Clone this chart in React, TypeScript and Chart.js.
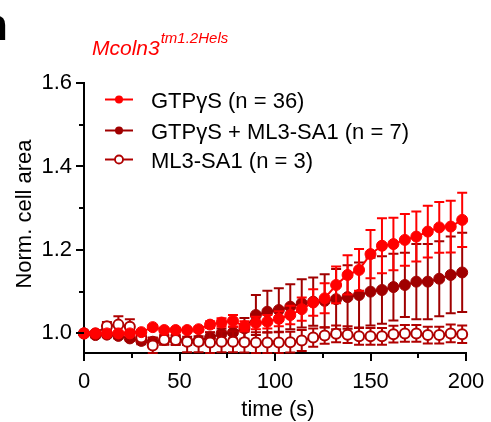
import React, { useEffect, useRef } from "react";
import { Chart, registerables } from "chart.js";

Chart.register(...registerables);

// ---------------- data ----------------
const TIMES = [0, 6, 12, 18, 24, 30, 36, 42, 48, 54, 60, 66, 72, 78, 84, 90, 96, 102, 108, 114, 120, 126, 132, 138, 144, 150, 156, 162, 168, 174, 180, 186, 192, 198];

const GTP_MEAN = [1.0, 1.0, 1.0, 1.0, 1.0, 1.003, 1.015, 1.008, 1.008, 1.008, 1.01, 1.021, 1.026, 1.03, 1.017, 1.025, 1.028, 1.035, 1.044, 1.058, 1.074, 1.084, 1.116, 1.14, 1.152, 1.19, 1.21, 1.214, 1.224, 1.232, 1.244, 1.254, 1.256, 1.272];
const GTP_SEM = [0.0, 0.004, 0.004, 0.004, 0.004, 0.004, 0.005, 0.005, 0.005, 0.005, 0.006, 0.008, 0.01, 0.014, 0.012, 0.015, 0.016, 0.018, 0.022, 0.028, 0.032, 0.036, 0.044, 0.047, 0.05, 0.058, 0.066, 0.063, 0.062, 0.06, 0.062, 0.061, 0.062, 0.065];

const COMBO_MEAN = [1.0, 0.996, 0.997, 0.994, 0.988, 0.982, 0.98, 0.984, 0.984, 0.982, 0.983, 0.99, 0.999, 1.002, 1.012, 1.044, 1.052, 1.056, 1.064, 1.072, 1.076, 1.078, 1.082, 1.087, 1.092, 1.1, 1.104, 1.111, 1.116, 1.124, 1.124, 1.131, 1.14, 1.146];
const COMBO_SEM = [0.0, 0.006, 0.006, 0.006, 0.006, 0.008, 0.01, 0.01, 0.01, 0.01, 0.01, 0.012, 0.012, 0.014, 0.025, 0.048, 0.05, 0.052, 0.054, 0.058, 0.058, 0.064, 0.072, 0.076, 0.078, 0.081, 0.081, 0.08, 0.077, 0.09, 0.09, 0.09, 0.092, 0.095];

const SA1_MEAN = [1.0, 1.0, 1.017, 1.021, 1.016, 0.99, 0.971, 0.985, 0.984, 0.98, 0.98, 0.978, 0.98, 0.98, 0.979, 0.978, 0.978, 0.978, 0.979, 0.983, 0.99, 0.995, 0.999, 0.997, 0.993, 0.993, 0.993, 0.998, 1.0, 1.0, 0.996, 0.996, 1.0, 0.998];
const SA1_SEM = [0.0, 0.005, 0.01, 0.02, 0.018, 0.01, 0.018, 0.012, 0.012, 0.025, 0.025, 0.025, 0.025, 0.025, 0.025, 0.025, 0.025, 0.025, 0.025, 0.025, 0.022, 0.02, 0.02, 0.02, 0.02, 0.02, 0.02, 0.02, 0.02, 0.02, 0.02, 0.02, 0.021, 0.021];

const LEGEND_LABELS = ["GTP\u03b3S (n = 36)", "GTP\u03b3S + ML3-SA1 (n = 7)", "ML3-SA1 (n = 3)"];

const X_TICKS = [0, 25, 50, 75, 100, 125, 150, 175, 200];
const X_LABELS = [0, 50, 100, 150, 200];
const Y_TICKS = [1.0, 1.1, 1.2, 1.3, 1.4, 1.5, 1.6];
const Y_LABELS = ["1.0", "1.2", "1.4", "1.6"];

const X_TITLE = "time (s)";
const Y_TITLE = "Norm. cell area";
const GENE = "Mcoln3";
const GENE_SUP = "tm1.2Hels";
const PANEL = "n";

// ---------------- styles ----------------
const RED = "#FF0000";
const DARK = "#A00000";
const OPEN = "#B00000";
const FONT = '"Liberation Sans", Arial, Helvetica, sans-serif';

const errorBarPlugin = {
  id: "errorBars",
  beforeDatasetDraw(chart: any, args: any) {
    const ds = chart.data.datasets[args.index];
    const sem: number[] = ds.sem;
    if (!sem) return;
    const xs = chart.scales.x;
    const ys = chart.scales.y;
    const ctx = chart.ctx;
    ctx.save();
    ctx.strokeStyle = ds.borderColor;
    ctx.lineWidth = 2;
    ds.data.forEach((p: any, i: number) => {
      const e = sem[i];
      if (!e) return;
      const x = xs.getPixelForValue(p.x);
      const yt = ys.getPixelForValue(p.y + e);
      const yb = ys.getPixelForValue(p.y - e);
      ctx.beginPath();
      ctx.moveTo(x, yt);
      ctx.lineTo(x, yb);
      ctx.moveTo(x - 5, yt);
      ctx.lineTo(x + 5, yt);
      ctx.moveTo(x - 5, yb);
      ctx.lineTo(x + 5, yb);
      ctx.stroke();
    });
    ctx.restore();
  },
};

const decorPlugin = {
  id: "decor",
  afterDraw(chart: any) {
    const ctx = chart.ctx;
    const xs = chart.scales.x;
    const ys = chart.scales.y;
    const area = chart.chartArea;
    ctx.save();
    // tick marks
    ctx.strokeStyle = "#000";
    ctx.lineWidth = 2;
    X_TICKS.forEach((v) => {
      const x = Math.round(xs.getPixelForValue(v));
      const len = X_LABELS.includes(v) ? 8 : 5;
      ctx.beginPath();
      ctx.moveTo(x, area.bottom);
      ctx.lineTo(x, area.bottom + len);
      ctx.stroke();
    });
    Y_TICKS.forEach((v) => {
      const y = Math.round(ys.getPixelForValue(v));
      const major = Math.round(v * 10) % 2 === 0;
      const len = major ? 8 : 5;
      ctx.beginPath();
      ctx.moveTo(area.left - len, y);
      ctx.lineTo(area.left, y);
      ctx.stroke();
    });

    // axis titles
    ctx.fillStyle = "#000";
    ctx.font = `22px ${FONT}`;
    ctx.textAlign = "center";
    ctx.textBaseline = "alphabetic";
    ctx.fillText(X_TITLE, 278, 416);
    ctx.save();
    ctx.translate(30.5, 214);
    ctx.rotate(-Math.PI / 2);
    ctx.fillText(Y_TITLE, 0, 0);
    ctx.restore();

    // panel letter
    ctx.font = `bold 44px ${FONT}`;
    ctx.textAlign = "left";
    ctx.fillText(PANEL, -19, 40);

    // gene label
    ctx.fillStyle = RED;
    ctx.font = `italic 21px ${FONT}`;
    ctx.fillText(GENE, 92, 55);
    const w = ctx.measureText(GENE).width;
    ctx.font = `italic 15px ${FONT}`;
    ctx.fillText(GENE_SUP, 92 + w + 1, 43);

    // legend
    const rows = [99.5, 130.5, 159.5];
    const cols = [RED, DARK, OPEN];
    rows.forEach((y, i) => {
      ctx.strokeStyle = cols[i];
      ctx.lineWidth = 2;
      ctx.beginPath();
      ctx.moveTo(105, y);
      ctx.lineTo(133, y);
      ctx.stroke();
      ctx.beginPath();
      ctx.arc(119, y, 4, 0, Math.PI * 2);
      if (i === 2) {
        ctx.fillStyle = "#fff";
        ctx.fill();
        ctx.lineWidth = 1.8;
        ctx.stroke();
      } else {
        ctx.fillStyle = cols[i];
        ctx.fill();
      }
      ctx.fillStyle = "#000";
      ctx.font = `22px ${FONT}`;
      ctx.textAlign = "left";
      ctx.fillText(LEGEND_LABELS[i], 151, y + 8.5);
    });
    ctx.restore();
  },
};

function pts(means: number[]) {
  return TIMES.map((t, i) => ({ x: t, y: means[i] }));
}

export default function App() {
  const ref = useRef<HTMLCanvasElement>(null);
  useEffect(() => {
    if (!ref.current) return;
    const chart = new Chart(ref.current, {
      type: "line",
      data: {
        datasets: [
          {
            label: LEGEND_LABELS[0],
            data: pts(GTP_MEAN),
            borderColor: RED,
            backgroundColor: RED,
            pointBackgroundColor: RED,
            pointBorderColor: RED,
            pointRadius: 5.5,
            pointBorderWidth: 1,
            borderWidth: 2,
            clip: false,
            order: 0,
            sem: GTP_SEM,
          } as any,
          {
            label: LEGEND_LABELS[1],
            data: pts(COMBO_MEAN),
            borderColor: DARK,
            backgroundColor: DARK,
            pointBackgroundColor: DARK,
            pointBorderColor: DARK,
            pointRadius: 5.5,
            pointBorderWidth: 1,
            borderWidth: 2,
            clip: false,
            order: 2,
            sem: COMBO_SEM,
          } as any,
          {
            label: LEGEND_LABELS[2],
            data: pts(SA1_MEAN),
            borderColor: OPEN,
            backgroundColor: "#fff",
            pointBackgroundColor: "#fff",
            pointBorderColor: OPEN,
            pointRadius: 5,
            pointBorderWidth: 2,
            borderWidth: 2,
            clip: false,
            order: 1,
            sem: SA1_SEM,
          } as any,
        ],
      },
      options: {
        responsive: false,
        animation: false,
        events: [],
        layout: { padding: { top: 83, right: 25, left: 0, bottom: 0 } },
        plugins: { legend: { display: false }, tooltip: { enabled: false }, title: { display: false } },
        scales: {
          x: {
            type: "linear",
            min: 0,
            max: 200,
            grid: { display: false, drawTicks: false, tickLength: 0 },
            border: { display: true, color: "#000", width: 2 },
            afterBuildTicks: (s: any) => {
              s.ticks = X_TICKS.map((v) => ({ value: v }));
            },
            afterFit: (s: any) => {
              s.height = 69;
              s.paddingLeft = 0;
              s.paddingRight = 0;
            },
            ticks: {
              autoSkip: false,
              maxRotation: 0,
              padding: 16,
              color: "#000",
              font: { family: FONT, size: 22 },
              callback: (v: any) => (X_LABELS.includes(Number(v)) ? String(v) : ""),
            },
          },
          y: {
            type: "linear",
            min: 0.953,
            max: 1.6,
            grid: { display: false, drawTicks: false, tickLength: 0 },
            border: { display: true, color: "#000", width: 2 },
            afterBuildTicks: (s: any) => {
              s.ticks = Y_TICKS.map((v) => ({ value: v }));
            },
            afterFit: (s: any) => {
              s.width = 84;
              s.paddingTop = 0;
              s.paddingBottom = 0;
            },
            ticks: {
              autoSkip: false,
              padding: 12,
              color: "#000",
              font: { family: FONT, size: 22 },
              callback: (v: any) => {
                const s = Number(v).toFixed(1);
                return Y_LABELS.includes(s) ? s : "";
              },
            },
          },
        },
      },
      plugins: [errorBarPlugin, decorPlugin],
    });
    return () => chart.destroy();
  }, []);

  return (
    <div style={{ position: "absolute", left: 0, top: 0, width: 491, height: 422, background: "#fff" }}>
      <canvas ref={ref} width={491} height={422} style={{ display: "block" }} />
    </div>
  );
}
